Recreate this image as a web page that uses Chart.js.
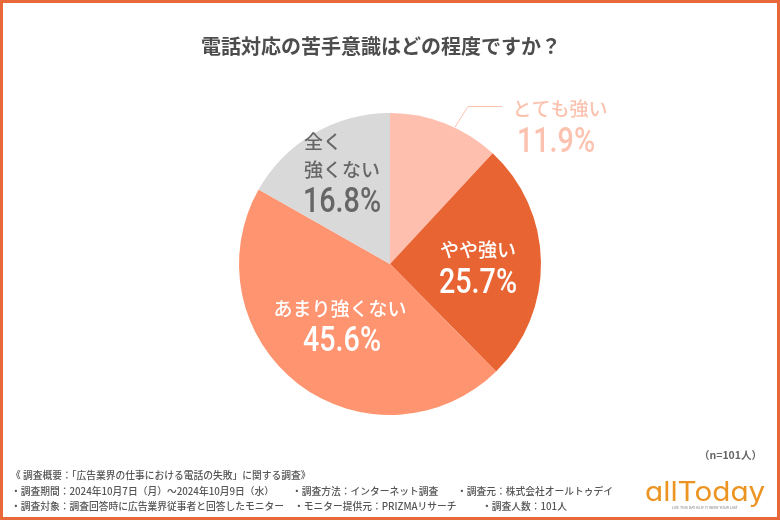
<!DOCTYPE html>
<html lang="ja">
<head>
<meta charset="utf-8">
<script src="https://cdn.jsdelivr.net/npm/chart.js@4"></script>
<style>
  html, body { margin: 0; padding: 0; background: #fff; }
  #wrap { position: relative; width: 780px; height: 520px; overflow: hidden; font-family: "Noto Sans CJK JP", sans-serif; color: #4d4d4d; }
  #frame { position: absolute; left: 0; top: 0; width: 774px; height: 514px; border: 3px solid #e8683a; pointer-events: none; }
  #grafico { position: absolute; left: 0; top: 0; }
  #titulo { position: absolute; left: -9px; top: 33px; width: 780px; text-align: center; font-size: 20px; font-weight: 700; line-height: 26px; }
  #amostra { position: absolute; right: 18px; top: 447px; font-size: 10.5px; font-weight: 700; line-height: 16px; color: #666; }
  .nota { position: absolute; font-size: 9.75px; font-weight: 500; line-height: 14px; color: #555; white-space: nowrap; }
  #logo { position: absolute; left: 645px; top: 476px; font-family: Inter, sans-serif; font-feature-settings: "cv11"; font-size: 27px; line-height: 32px; color: #ec9422; transform-origin: left top; transform: scaleX(1.1); white-space: nowrap; }
  #lema { position: absolute; left: 665px; top: 505px; width: 80px; text-align: center; font-size: 3.6px; line-height: 5px; color: #777; white-space: nowrap; }
</style>
</head>
<body>
<div id="wrap">
  <canvas id="grafico" width="780" height="520"></canvas>
  <div id="frame"></div>
  <div id="titulo">電話対応の苦手意識はどの程度ですか？</div>
  <div id="amostra">（n=101人）</div>
  <div class="nota" style="left:11px;top:468px">《 調査概要：「広告業界の仕事における電話の失敗」に関する調査》</div>
  <div class="nota" style="left:11px;top:484px">・調査期間：2024年10月7日（月）～2024年10月9日（水）</div>
  <div class="nota" style="left:292px;top:484px">・調査方法：インターネット調査</div>
  <div class="nota" style="left:457px;top:484px">・調査元：株式会社オールトゥデイ</div>
  <div class="nota" style="left:11px;top:499px">・調査対象：調査回答時に広告業界従事者と回答したモニター</div>
  <div class="nota" style="left:294px;top:499px">・モニター提供元：PRIZMAリサーチ</div>
  <div class="nota" style="left:482px;top:499px">・調査人数：101人</div>
  <div id="logo">allToday</div>
  <div id="lema">LIVE THIS DAY AS IF IT WERE YOUR LAST</div>
</div>
<script>
const categorias = ["とても強い", "やや強い", "あまり強くない", "全く\n強くない"];
const valores = [11.9, 25.7, 45.6, 16.8];
const cores = ["#ffbfae", "#e86533", "#ff9470", "#d9d9d9"];

const rotulos = [
  { x: 560, y: 109, xp: 556, yp: 143, cor: "#fcc2b0" },
  { x: 478, y: 250, xp: 478, yp: 284, cor: "#ffffff" },
  { x: 340, y: 309, xp: 342, yp: 342, cor: "#ffffff" },
  { x: 342, y: 142, xp: 342, yp: 203, cor: "#666666" }
];

// nomes e percentuais sobre as fatias, mais a linha guia da primeira
const pluginRotulos = {
  id: "rotulos",
  afterDatasetsDraw(chart) {
    const ctx = chart.ctx;
    ctx.save();
    ctx.textBaseline = "middle";

    ctx.strokeStyle = "#fcc2b0";
    ctx.lineWidth = 1;
    ctx.beginPath();
    ctx.moveTo(455, 127);
    ctx.lineTo(468, 106.5);
    ctx.lineTo(502, 106.5);
    ctx.stroke();

    categorias.forEach((nome, i) => {
      const r = rotulos[i];
      ctx.fillStyle = r.cor;
      const linhas = nome.split("\n");
      ctx.font = '500 19px "Noto Sans CJK JP"';
      ctx.textAlign = linhas.length > 1 ? "left" : "center";
      linhas.forEach((linha, j) => {
        ctx.fillText(linha, linhas.length > 1 ? r.x - 38 : r.x, r.y + j * 28);
      });
      // o percentual da referência é estreito, então comprime na horizontal
      ctx.save();
      ctx.translate(r.xp, r.yp);
      ctx.scale(0.82, 1);
      ctx.textAlign = "center";
      ctx.font = '500 35px Roboto';
      ctx.fillText(valores[i].toFixed(1) + "%", 0, 0);
      ctx.restore();
    });
    ctx.restore();
  }
};

const ctx = document.getElementById("grafico").getContext("2d");
window.grafico = new Chart(ctx, {
  type: "pie",
  data: {
    labels: categorias,
    datasets: [{
      data: valores,
      backgroundColor: cores,
      borderWidth: 0
    }]
  },
  options: {
    responsive: false,
    animation: false,
    layout: { padding: { top: 113, bottom: 105 } },
    plugins: {
      legend: { display: false },
      tooltip: { enabled: false }
    }
  },
  plugins: [pluginRotulos]
});
</script>
</body>
</html>
